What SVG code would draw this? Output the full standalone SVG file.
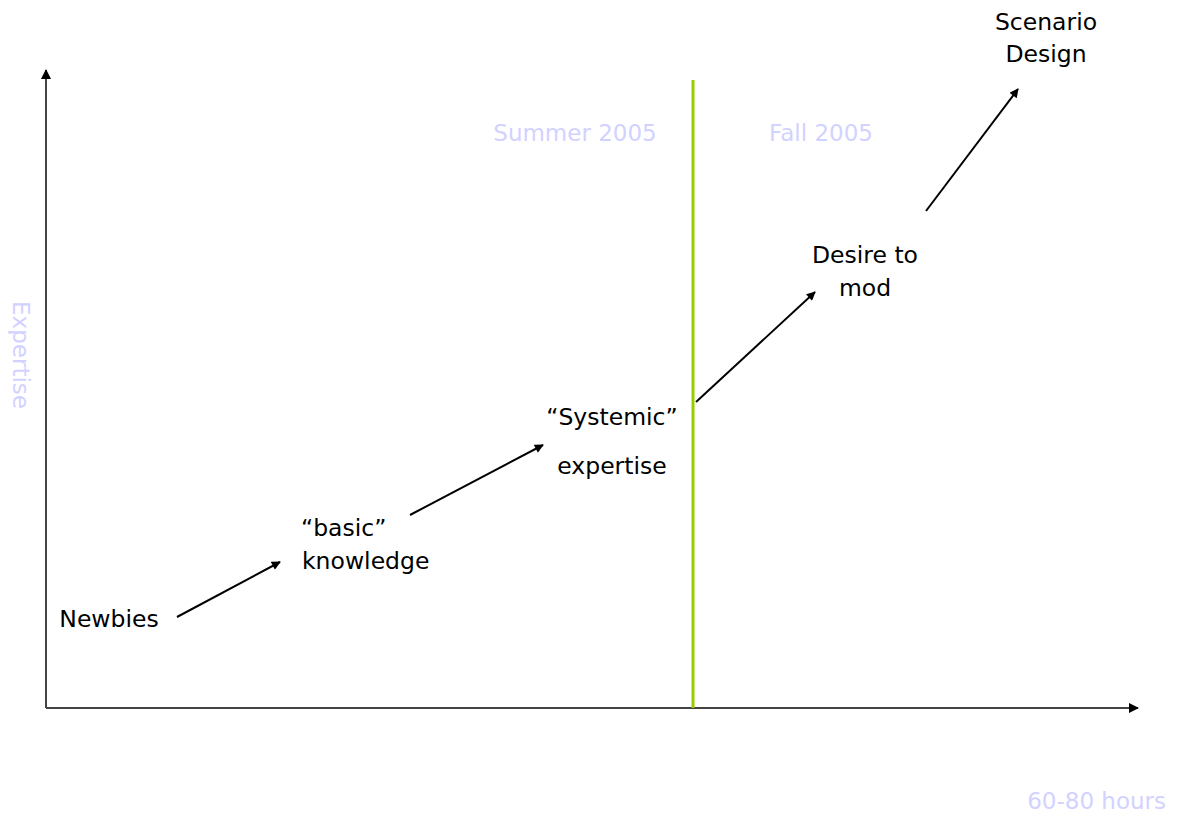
<svg xmlns="http://www.w3.org/2000/svg" width="1177" height="820" viewBox="0 0 1177 820">
  <style>
    .lbl { font-family: "DejaVu Sans", Verdana, sans-serif; font-size: 23.5px; fill: #000; }
    .faint { font-family: "DejaVu Sans", Verdana, sans-serif; font-size: 23px; fill: #d2d2ff; }
    .axis { stroke: #444; stroke-width: 2; fill: none; }
    .step { stroke: #000; stroke-width: 2; fill: none; marker-end: url(#head); }
  </style>
  <defs>
    <marker id="head" viewBox="0 0 10 10" refX="9" refY="5" markerWidth="11" markerHeight="9" markerUnits="userSpaceOnUse" orient="auto">
      <path d="M0,0 L10,5 L0,10 z" fill="#000"/>
    </marker>
    <marker id="axhead" viewBox="0 0 10 10" refX="9" refY="5" markerWidth="12" markerHeight="10" markerUnits="userSpaceOnUse" orient="auto">
      <path d="M0,0 L10,5 L0,10 z" fill="#000"/>
    </marker>
  </defs>

  <!-- axes -->
  <g id="axes">
    <line class="axis" x1="46" y1="708" x2="46" y2="70" marker-end="url(#axhead)"/>
    <line class="axis" x1="46" y1="708" x2="1138" y2="708" marker-end="url(#axhead)"/>
    <text class="faint" font-size="24.5" transform="translate(13,355) rotate(90)" text-anchor="middle">Expertise</text>
    <text class="faint" x="1166" y="809" text-anchor="end">60-80 hours</text>
  </g>

  <!-- period divider -->
  <g id="divider">
    <line x1="693" y1="80" x2="693" y2="708" stroke="#99cc00" stroke-width="3"/>
    <text class="faint" x="575" y="141" text-anchor="middle">Summer 2005</text>
    <text class="faint" x="821" y="141" text-anchor="middle">Fall 2005</text>
  </g>

  <!-- stages -->
  <g id="newbies"><text class="lbl" x="109" y="627" text-anchor="middle">Newbies</text></g>
  <g id="basic">
    <text class="lbl" x="301" y="536">“basic”</text>
    <text class="lbl" x="302" y="569">knowledge</text>
  </g>
  <g id="systemic">
    <text class="lbl" x="612" y="425" text-anchor="middle">“Systemic”</text>
    <text class="lbl" x="612" y="474" text-anchor="middle">expertise</text>
  </g>
  <g id="mod">
    <text class="lbl" x="865" y="263" text-anchor="middle">Desire to</text>
    <text class="lbl" x="865" y="296" text-anchor="middle">mod</text>
  </g>
  <g id="scenario">
    <text class="lbl" x="1046" y="30" text-anchor="middle">Scenario</text>
    <text class="lbl" x="1046" y="62" text-anchor="middle">Design</text>
  </g>

  <!-- progression arrows -->
  <g id="connectors">
    <line class="step" x1="177" y1="617" x2="280" y2="562"/>
    <line class="step" x1="410" y1="515" x2="543" y2="445"/>
    <line class="step" x1="696" y1="402" x2="815" y2="292"/>
    <line class="step" x1="926" y1="211" x2="1018" y2="89"/>
  </g>
</svg>
